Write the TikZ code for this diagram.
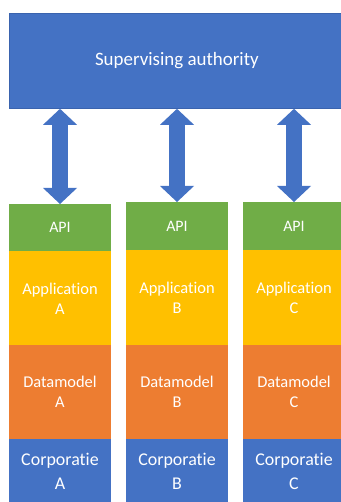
\documentclass[tikz,border=0pt]{standalone}
\usepackage{fontspec}
\setmainfont[Ligatures=NoCommon]{Carlito}
\usetikzlibrary{arrows.meta}
\definecolor{ofblue}{HTML}{4472C4}
\definecolor{ofgreen}{HTML}{70AD47}
\definecolor{ofgold}{HTML}{FFC000}
\definecolor{oforange}{HTML}{ED7D31}
\definecolor{ofedge}{HTML}{3A63AE}
\begin{document}
\begin{tikzpicture}[x=1bp,y=-1bp,
  layer/.style={rectangle, inner sep=0pt, minimum width=102bp, text=white, align=center, anchor=north},
  apibox/.style={layer, fill=ofgreen, minimum height=48bp, font=\fontsize{16}{19}\selectfont},
  appbox/.style={layer, fill=ofgold, minimum height=95bp, font=\fontsize{16.5}{20}\selectfont},
  dmbox/.style={layer, fill=oforange, minimum height=94bp, font=\fontsize{16.5}{20}\selectfont},
  corpbox/.style={layer, fill=ofblue, minimum height=64bp, font=\fontsize{18}{24}\selectfont},
  tip/.tip={Triangle[width=34bp,length=16bp,line width=0pt]},
  bigarrow/.style={draw=ofblue, line width=16bp, {tip}-{tip}}
]
\useasboundingbox (0,0) rectangle (340,502);
\node[rectangle, inner sep=0pt, fill=ofblue, draw=ofedge, line width=0.8bp, minimum width=335bp, minimum height=95bp, anchor=north west, text=white, font=\fontsize{19}{22}\selectfont] (top) at (9,13) {Supervising authority};

\node[apibox, minimum height=47bp] (apiA) at (60,204) {API};
\node[appbox] (appA) at (60,251) {Application\\A};
\node[dmbox] (dmA) at (60,345) {Datamodel\\A};
\node[corpbox] (corpA) at (60,439) {Corporatie\\A};

\node[apibox] (apiB) at (177,202) {API};
\node[appbox] (appB) at (177,250) {Application\\B};
\node[dmbox] (dmB) at (177,345) {Datamodel\\B};
\node[corpbox] (corpB) at (177,439) {Corporatie\\B};

\node[apibox] (apiC) at (294,202) {API};
\node[appbox] (appC) at (294,250) {Application\\C};
\node[dmbox] (dmC) at (294,345) {Datamodel\\C};
\node[corpbox] (corpC) at (294,439) {Corporatie\\C};

\draw[bigarrow] (top.south -| apiA.north) -- (apiA.north);
\draw[bigarrow] (top.south -| apiB.north) -- (apiB.north);
\draw[bigarrow] (top.south -| apiC.north) -- (apiC.north);
\end{tikzpicture}
\end{document}
